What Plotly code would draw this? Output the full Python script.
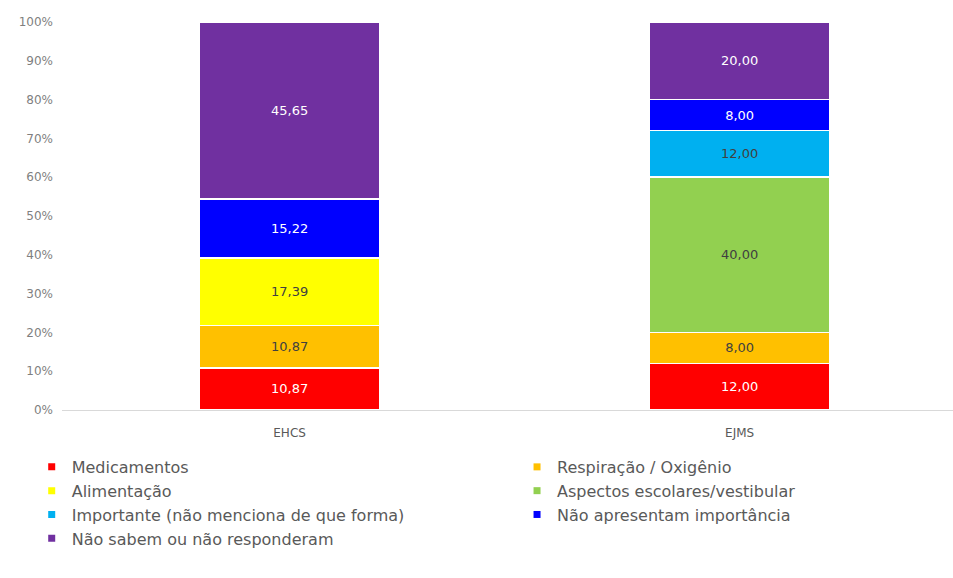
import plotly.graph_objects as go

categories = ["EHCS", "EJMS"]
series_names = [
    "Medicamentos",
    "Respiração / Oxigênio",
    "Alimentação",
    "Aspectos escolares/vestibular",
    "Importante (não menciona de que forma)",
    "Não apresentam importância",
    "Não sabem ou não responderam",
]
medicamentos = [10.87, 12.00]
respiracao = [10.87, 8.00]
alimentacao = [17.39, 0.0]
aspectos = [0.0, 40.00]
importante = [0.0, 12.00]
nao_apresentam = [15.22, 8.00]
nao_sabem = [45.65, 20.00]
series_values = [medicamentos, respiracao, alimentacao, aspectos, importante, nao_apresentam, nao_sabem]
colors = ["#FF0000", "#FFC000", "#FFFF00", "#92D050", "#00B0F0", "#0000FF", "#7030A0"]
text_colors = ["#FFFFFF", "#404040", "#404040", "#404040", "#404040", "#FFFFFF", "#FFFFFF"]
y_ticks = [0, 10, 20, 30, 40, 50, 60, 70, 80, 90, 100]
y_tick_labels = [f"{t}%" for t in y_ticks]

FONT = "DejaVu Sans"

fig = go.Figure()
for name, vals, col, tcol in zip(series_names, series_values, colors, text_colors):
    txt = [f"{v:.2f}".replace(".", ",") if v else "" for v in vals]
    fig.add_trace(go.Bar(
        x=categories, y=vals, name=name,
        marker=dict(color=col, line=dict(color="white", width=1.5)),
        text=txt, textposition="inside", insidetextanchor="middle",
        textangle=0,
        textfont=dict(family=FONT, size=13, color=tcol),
        width=0.4, showlegend=False, hoverinfo="skip",
    ))
# legend entries: two columns (left = even index, right = odd index)
for i, (name, col) in enumerate(zip(series_names, colors)):
    fig.add_trace(go.Scatter(
        x=[None], y=[None], mode="markers", name=name,
        marker=dict(symbol="square", size=7, color=col),
        showlegend=True, legend="legend" if i % 2 == 0 else "legend2",
    ))

legend_common = dict(
    orientation="v", traceorder="normal",
    xanchor="left", y=-0.103, yanchor="top",
    font=dict(family=FONT, size=16, color="#595959"),
    bgcolor="rgba(0,0,0,0)",
)

fig.update_layout(
    width=953, height=578,
    barmode="stack",
    separators=",.",
    paper_bgcolor="white", plot_bgcolor="white",
    margin=dict(l=62, r=0, t=22, b=168, autoexpand=False),
    font=dict(family=FONT, color="#595959"),
    xaxis=dict(
        range=[-0.5056, 1.474],
        showline=True, linecolor="#D9D9D9", linewidth=1,
        showgrid=False, ticks="", zeroline=False,
        ticklabelstandoff=12,
        tickfont=dict(family=FONT, size=12, color="#595959"),
    ),
    yaxis=dict(
        range=[0, 100], tickvals=y_ticks, ticktext=y_tick_labels,
        showgrid=False, zeroline=False, showline=False, ticks="",
        ticklabelstandoff=8,
        tickfont=dict(family=FONT, size=12, color="#7F7F7F"),
    ),
    legend=dict(x=-0.034, **legend_common),
    legend2=dict(x=0.5107, **legend_common),
)

fig.write_html("out.html")
